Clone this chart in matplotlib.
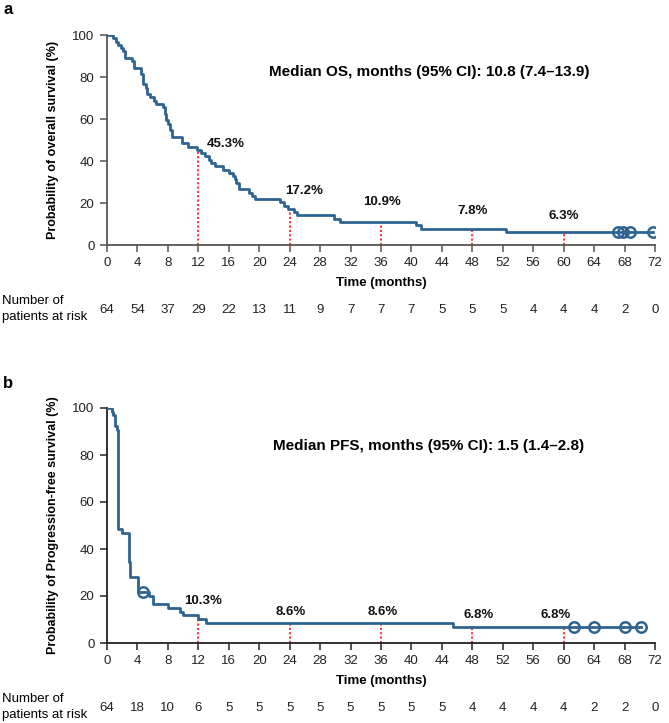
import matplotlib
matplotlib.use('Agg')
import matplotlib.pyplot as plt
import matplotlib.transforms as mtransforms

plt.rcParams['font.family'] = ['Liberation Sans', 'DejaVu Sans']

# ---------------- data ----------------
os_times = [0, 0.8, 1.2, 1.5, 1.8, 2.1, 2.3, 3.3, 3.6, 4.5, 4.7, 5.1, 5.3, 5.6, 6.2, 6.5,
            7.4, 7.6, 7.8, 7.95, 8.3, 8.5, 9.8, 10.6, 11.8, 12.4, 12.9, 13.4, 13.7, 14.2,
            15.3, 16.0, 16.5, 16.8, 17.0, 17.3, 18.7, 19.0, 19.5, 22.7, 23.3, 23.8, 24.6,
            25.0, 29.8, 30.6, 40.6, 41.3, 52.4]
os_surv = [100, 98.4, 96.9, 95.3, 93.8, 92.2, 89.1, 87.5, 84.4, 81.3, 76.6, 75.0, 71.9, 70.3,
           68.8, 67.2, 65.6, 62.5, 59.4, 57.8, 54.7, 51.6, 48.4, 46.9, 45.3, 43.8, 42.2, 40.6,
           39.1, 37.5, 35.9, 34.4, 32.8, 31.3, 29.7, 26.6, 25.0, 23.4, 21.9, 20.3, 18.8, 17.2,
           15.6, 14.1, 12.5, 10.9, 9.4, 7.8, 6.3]
os_censor = [67.2, 67.8, 68.7, 71.7]
os_mark_t = [12, 24, 36, 48, 60]
os_mark_v = [45.3, 17.2, 10.9, 7.8, 6.3]
os_at_risk = [64, 54, 37, 29, 22, 13, 11, 9, 7, 7, 7, 5, 5, 5, 4, 4, 4, 2, 0]

pfs_times = [0, 0.6, 0.8, 1.0, 1.1, 1.3, 1.45, 1.5, 2.0, 2.9, 3.0, 4.1, 5.5, 6.0, 8.0,
             9.6, 10.0, 11.9, 13.0, 45.5]
pfs_surv = [100, 98.4, 96.9, 93.8, 92.2, 90.6, 62.5, 48.4, 46.9, 34.4, 28.1, 21.9, 20.2,
            16.8, 15.1, 13.4, 11.8, 10.3, 8.6, 6.8]
pfs_censor = [4.7, 61.3, 64.0, 68.1, 70.2]
pfs_mark_t = [12, 24, 36, 48, 60]
pfs_mark_v = [10.3, 8.6, 8.6, 6.8, 6.8]
pfs_at_risk = [64, 18, 10, 6, 5, 5, 5, 5, 5, 5, 5, 5, 4, 4, 4, 4, 2, 2, 0]

x_ticks = list(range(0, 73, 4))
y_ticks = [0, 20, 40, 60, 80, 100]

BLUE = '#2f6492'
RED = '#ff2a1a'

W, H = 669, 723
fig = plt.figure(figsize=(W / 100, H / 100), dpi=100)


def fx(px):
    return px / W


def fy(py):
    return 1 - py / H


def step_value(times, surv, t):
    v = surv[0]
    for ti, si in zip(times, surv):
        if ti <= t:
            v = si
    return v


def panel(top, bottom, times, surv, censor, mark_t, mark_v, label_off, at_risk,
          ylabel, median_txt, letter, spine_col):
    ax = fig.add_axes([fx(107), fy(bottom), fx(655) - fx(107), fy(top) - fy(bottom)])
    end = max(censor)
    tt = list(times) + [end]
    ss = list(surv) + [surv[-1]]
    ax.step(tt, ss, where='post', color=BLUE, lw=2.0, zorder=3)
    cv = [step_value(times, surv, c) for c in censor]
    ax.plot(censor, cv, 'o', ms=7.5, mfc='none', mec=BLUE, mew=1.8, zorder=4)
    ax.vlines(mark_t, 0, mark_v, colors=RED, linestyles=(0, (1.2, 1.2)), lw=1.3, zorder=2)
    for t, v, (dx, dy, ha) in zip(mark_t, mark_v, label_off):
        ax.text(t + dx, v + dy, f'{v}%', ha=ha, va='center', fontsize=9.5,
                fontweight='bold', color='#111111')
    ax.set_xlim(0, 72)
    ax.set_ylim(0, 100)
    ax.set_xticks(x_ticks)
    ax.set_yticks(y_ticks)
    for s in ['top', 'right']:
        ax.spines[s].set_visible(False)
    for s in ['left', 'bottom']:
        ax.spines[s].set_color(spine_col)
        ax.spines[s].set_linewidth(1.3)
    ax.tick_params(direction='out', length=5, width=1.1, color=spine_col,
                   labelsize=9.5, labelcolor='#222222', pad=4)
    ax.set_facecolor('none')
    # axis labels
    fig.text(fx(381), fy(bottom + 38), 'Time (months)', ha='center', va='center',
             fontsize=9.5, fontweight='bold')
    fig.text(fx(53), fy((top + bottom) / 2), ylabel, ha='center', va='center',
             rotation=90, fontsize=9, fontweight='bold')
    fig.text(fx(429), fy(top + 37 if letter == 'a' else top + 38), median_txt,
             ha='center', va='center', fontsize=11, fontweight='bold')
    fig.text(fx(3), fy(top - 25), letter, ha='left', va='center', fontsize=12,
             fontweight='bold')
    # at risk
    fig.text(fx(2), fy(bottom + 56), 'Number of', ha='left', va='center', fontsize=9.5)
    fig.text(fx(2), fy(bottom + 72), 'patients at risk', ha='left', va='center', fontsize=9.5)
    trans = mtransforms.blended_transform_factory(ax.transData, fig.transFigure)
    for t, n in zip(x_ticks, at_risk):
        ax.text(t, fy(bottom + 65), str(n), transform=trans, ha='center', va='center',
                fontsize=9.5, color='#222222', clip_on=False)
    return ax


os_off = [(1.1, 3.0, 'left'), (1.9, 8.5, 'center'), (0.1, 9.5, 'center'),
          (0.0, 8.5, 'center'), (0.0, 7.5, 'center')]
pfs_off = [(0.6, 7.4, 'center'), (0.2, 4.8, 'center'), (0.2, 4.8, 'center'),
           (0.8, 5.3, 'center'), (-1.0, 5.3, 'center')]

panel(35, 245, os_times, os_surv, os_censor, os_mark_t, os_mark_v, os_off, os_at_risk,
      'Probability of overall survival (%)',
      'Median OS, months (95% CI): 10.8 (7.4\u201313.9)', 'a', '#555555')
panel(408, 643, pfs_times, pfs_surv, pfs_censor, pfs_mark_t, pfs_mark_v, pfs_off, pfs_at_risk,
      'Probability of Progression-free survival (%)',
      'Median PFS, months (95% CI): 1.5 (1.4\u20132.8)', 'b', '#222222')

fig.savefig('out.png', dpi=100)
